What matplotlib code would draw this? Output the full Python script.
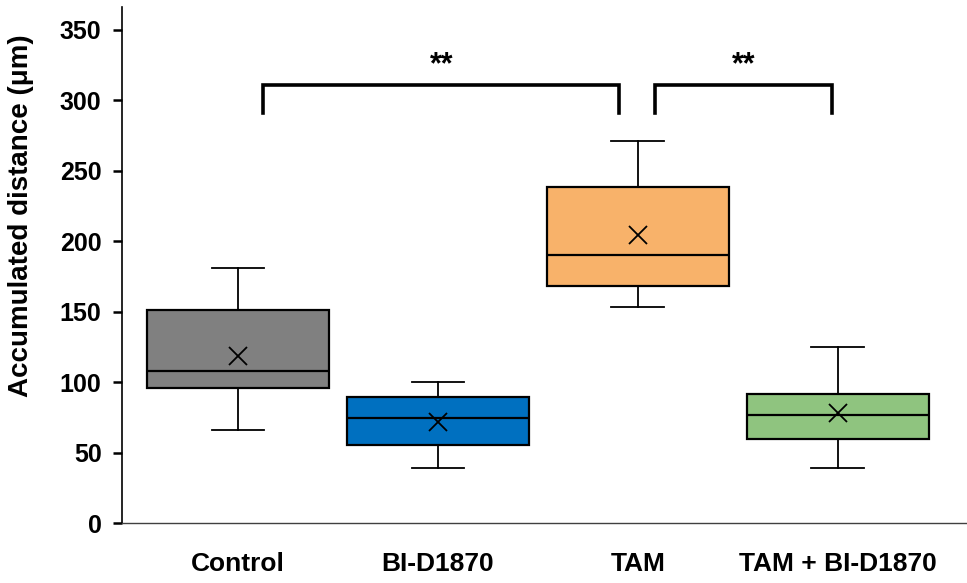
import matplotlib.pyplot as plt

groups = ["Control", "BI-D1870", "TAM", "TAM + BI-D1870"]
whisker_low = [66, 39.5, 153, 39]
q1 = [96, 55.5, 168, 60]
median = [108, 74.5, 190, 77]
q3 = [151, 89.5, 238.5, 92]
whisker_high = [181, 100.5, 271, 125]
mean = [118.5, 72, 204.5, 78.5]
colors = ["#808080", "#0070c0", "#f8b26a", "#8fc47f"]

# significance brackets: (left group, right group, label)
brackets = [(1, 3, "**"), (3, 4, "**")]

plt.rcParams['font.family'] = ['Liberation Sans', 'DejaVu Sans']

fig = plt.figure(figsize=(9.67, 5.83), dpi=100)
ax = fig.add_axes([0.1259, 0.1024, 0.8741, 0.8856])

stats = []
for i in range(len(groups)):
    stats.append({"label": groups[i], "whislo": whisker_low[i], "q1": q1[i], "med": median[i],
                  "q3": q3[i], "whishi": whisker_high[i], "mean": mean[i], "fliers": []})

pos = list(range(1, len(groups) + 1))
bp = ax.bxp(stats, positions=pos, widths=0.91, capwidths=0.264, patch_artist=True, showmeans=True,
            boxprops=dict(linewidth=1.6, edgecolor="black"),
            medianprops=dict(color="black", linewidth=1.6),
            whiskerprops=dict(color="black", linewidth=1.3),
            capprops=dict(color="black", linewidth=1.3),
            meanprops=dict(marker="x", markeredgecolor="black", markersize=13, markeredgewidth=1.3))
for patch, c in zip(bp["boxes"], colors):
    patch.set_facecolor(c)

# brackets
offsets = [(0.127, -0.093), (0.088, -0.03)]
for (a, b, lab), (da, db) in zip(brackets, offsets):
    x0 = a + da
    x1 = b + db
    ax.plot([x0, x0, x1, x1], [291, 310.5, 310.5, 291], color="black", lw=2.6, solid_joinstyle="miter")
    ax.text((x0 + x1) / 2, 319, lab, ha="center", va="baseline", fontsize=22, fontweight="bold")

ax.set_xlim(0.418, 4.647)
ax.set_ylim(0, 366)
ax.set_yticks(range(0, 351, 50))
ax.set_xticks(pos)
ax.set_xticklabels(groups, fontsize=19, fontweight="bold")
ax.tick_params(axis="x", length=0, pad=21)
ax.tick_params(axis="y", length=6.5, width=1.8, labelsize=18, pad=8)
for t in ax.get_yticklabels():
    t.set_fontweight("bold")
ax.set_ylabel("Accumulated distance (\u03bcm)", fontsize=20, fontweight="bold")
ax.yaxis.set_label_coords(-0.104, 0.595)

ax.spines["top"].set_visible(False)
ax.spines["right"].set_visible(False)
ax.spines["left"].set_linewidth(1.2)
ax.spines["bottom"].set_linewidth(1.0)
ax.spines["bottom"].set_color("#404040")

plt.savefig("out.png", dpi=100)
